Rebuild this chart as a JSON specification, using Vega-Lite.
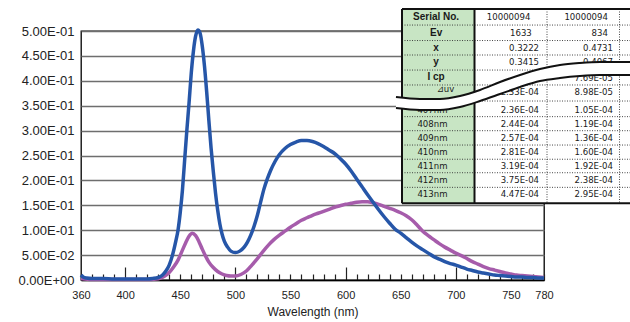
{
  "$schema": "https://vega.github.io/schema/vega-lite/v6.json",
  "width": 463,
  "height": 249,
  "autosize": {"type": "none"},
  "padding": {"left": 81, "top": 31, "right": 86, "bottom": 42},
  "background": "white",
  "config": {"view": {"stroke": "black", "strokeWidth": 1.3}, "font": "Liberation Sans"},
  "datasets": {
    "spectra": [
      {"s":"b","nm":360,"v":0.010},{"s":"b","nm":362,"v":0.006},{"s":"b","nm":365,"v":0.004},{"s":"b","nm":370,"v":0.003},{"s":"b","nm":380,"v":0.003},{"s":"b","nm":390,"v":0.002},{"s":"b","nm":400,"v":0.002},{"s":"b","nm":410,"v":0.002},{"s":"b","nm":420,"v":0.002},{"s":"b","nm":425,"v":0.003},{"s":"b","nm":430,"v":0.005},{"s":"b","nm":434,"v":0.010},{"s":"b","nm":437,"v":0.018},{"s":"b","nm":440,"v":0.030},{"s":"b","nm":443,"v":0.050},{"s":"b","nm":446,"v":0.078},{"s":"b","nm":448,"v":0.100},{"s":"b","nm":450,"v":0.135},{"s":"b","nm":452,"v":0.180},{"s":"b","nm":454,"v":0.240},{"s":"b","nm":456,"v":0.300},{"s":"b","nm":458,"v":0.355},{"s":"b","nm":460,"v":0.415},{"s":"b","nm":462,"v":0.460},{"s":"b","nm":464,"v":0.490},{"s":"b","nm":466,"v":0.502},{"s":"b","nm":468,"v":0.496},{"s":"b","nm":470,"v":0.470},{"s":"b","nm":472,"v":0.430},{"s":"b","nm":474,"v":0.378},{"s":"b","nm":476,"v":0.320},{"s":"b","nm":478,"v":0.265},{"s":"b","nm":480,"v":0.218},{"s":"b","nm":482,"v":0.175},{"s":"b","nm":484,"v":0.140},{"s":"b","nm":486,"v":0.112},{"s":"b","nm":488,"v":0.092},{"s":"b","nm":490,"v":0.078},{"s":"b","nm":493,"v":0.066},{"s":"b","nm":496,"v":0.058},{"s":"b","nm":500,"v":0.055},{"s":"b","nm":504,"v":0.058},{"s":"b","nm":508,"v":0.066},{"s":"b","nm":511,"v":0.076},{"s":"b","nm":514,"v":0.090},{"s":"b","nm":517,"v":0.108},{"s":"b","nm":520,"v":0.130},{"s":"b","nm":523,"v":0.157},{"s":"b","nm":526,"v":0.183},{"s":"b","nm":529,"v":0.203},{"s":"b","nm":532,"v":0.220},{"s":"b","nm":536,"v":0.238},{"s":"b","nm":540,"v":0.252},{"s":"b","nm":545,"v":0.264},{"s":"b","nm":550,"v":0.272},{"s":"b","nm":555,"v":0.277},{"s":"b","nm":560,"v":0.280},{"s":"b","nm":565,"v":0.280},{"s":"b","nm":570,"v":0.278},{"s":"b","nm":575,"v":0.274},{"s":"b","nm":580,"v":0.268},{"s":"b","nm":585,"v":0.261},{"s":"b","nm":590,"v":0.254},{"s":"b","nm":595,"v":0.244},{"s":"b","nm":600,"v":0.233},{"s":"b","nm":605,"v":0.219},{"s":"b","nm":610,"v":0.203},{"s":"b","nm":615,"v":0.187},{"s":"b","nm":620,"v":0.171},{"s":"b","nm":625,"v":0.156},{"s":"b","nm":630,"v":0.141},{"s":"b","nm":635,"v":0.127},{"s":"b","nm":640,"v":0.114},{"s":"b","nm":645,"v":0.102},{"s":"b","nm":650,"v":0.094},{"s":"b","nm":655,"v":0.085},{"s":"b","nm":660,"v":0.076},{"s":"b","nm":665,"v":0.068},{"s":"b","nm":670,"v":0.061},{"s":"b","nm":675,"v":0.054},{"s":"b","nm":680,"v":0.047},{"s":"b","nm":685,"v":0.042},{"s":"b","nm":690,"v":0.037},{"s":"b","nm":695,"v":0.033},{"s":"b","nm":700,"v":0.030},{"s":"b","nm":705,"v":0.026},{"s":"b","nm":710,"v":0.022},{"s":"b","nm":715,"v":0.019},{"s":"b","nm":720,"v":0.016},{"s":"b","nm":725,"v":0.014},{"s":"b","nm":730,"v":0.012},{"s":"b","nm":735,"v":0.010},{"s":"b","nm":740,"v":0.009},{"s":"b","nm":745,"v":0.008},{"s":"b","nm":750,"v":0.007},{"s":"b","nm":755,"v":0.006},{"s":"b","nm":760,"v":0.006},{"s":"b","nm":765,"v":0.005},{"s":"b","nm":770,"v":0.005},{"s":"b","nm":775,"v":0.004},{"s":"b","nm":780,"v":0.004},
      {"s":"p","nm":360,"v":0.003},{"s":"p","nm":370,"v":0.001},{"s":"p","nm":380,"v":0.001},{"s":"p","nm":390,"v":0.001},{"s":"p","nm":400,"v":0.001},{"s":"p","nm":410,"v":0.001},{"s":"p","nm":420,"v":0.001},{"s":"p","nm":428,"v":0.002},{"s":"p","nm":432,"v":0.004},{"s":"p","nm":436,"v":0.008},{"s":"p","nm":440,"v":0.015},{"s":"p","nm":444,"v":0.026},{"s":"p","nm":448,"v":0.040},{"s":"p","nm":452,"v":0.060},{"s":"p","nm":455,"v":0.075},{"s":"p","nm":458,"v":0.088},{"s":"p","nm":461,"v":0.094},{"s":"p","nm":464,"v":0.089},{"s":"p","nm":467,"v":0.077},{"s":"p","nm":470,"v":0.062},{"s":"p","nm":473,"v":0.048},{"s":"p","nm":476,"v":0.036},{"s":"p","nm":480,"v":0.025},{"s":"p","nm":484,"v":0.017},{"s":"p","nm":488,"v":0.012},{"s":"p","nm":492,"v":0.009},{"s":"p","nm":496,"v":0.008},{"s":"p","nm":500,"v":0.008},{"s":"p","nm":505,"v":0.011},{"s":"p","nm":510,"v":0.018},{"s":"p","nm":515,"v":0.030},{"s":"p","nm":520,"v":0.043},{"s":"p","nm":525,"v":0.057},{"s":"p","nm":530,"v":0.070},{"s":"p","nm":535,"v":0.081},{"s":"p","nm":540,"v":0.090},{"s":"p","nm":545,"v":0.098},{"s":"p","nm":550,"v":0.106},{"s":"p","nm":555,"v":0.113},{"s":"p","nm":560,"v":0.120},{"s":"p","nm":565,"v":0.125},{"s":"p","nm":570,"v":0.130},{"s":"p","nm":575,"v":0.134},{"s":"p","nm":580,"v":0.138},{"s":"p","nm":585,"v":0.142},{"s":"p","nm":590,"v":0.146},{"s":"p","nm":595,"v":0.149},{"s":"p","nm":600,"v":0.152},{"s":"p","nm":605,"v":0.154},{"s":"p","nm":610,"v":0.156},{"s":"p","nm":615,"v":0.157},{"s":"p","nm":620,"v":0.157},{"s":"p","nm":625,"v":0.155},{"s":"p","nm":630,"v":0.152},{"s":"p","nm":635,"v":0.148},{"s":"p","nm":640,"v":0.144},{"s":"p","nm":645,"v":0.140},{"s":"p","nm":650,"v":0.135},{"s":"p","nm":655,"v":0.129},{"s":"p","nm":660,"v":0.121},{"s":"p","nm":665,"v":0.110},{"s":"p","nm":670,"v":0.098},{"s":"p","nm":675,"v":0.089},{"s":"p","nm":680,"v":0.081},{"s":"p","nm":685,"v":0.073},{"s":"p","nm":690,"v":0.066},{"s":"p","nm":695,"v":0.060},{"s":"p","nm":700,"v":0.054},{"s":"p","nm":705,"v":0.049},{"s":"p","nm":710,"v":0.043},{"s":"p","nm":715,"v":0.037},{"s":"p","nm":720,"v":0.032},{"s":"p","nm":725,"v":0.027},{"s":"p","nm":730,"v":0.023},{"s":"p","nm":735,"v":0.020},{"s":"p","nm":740,"v":0.017},{"s":"p","nm":745,"v":0.014},{"s":"p","nm":750,"v":0.012},{"s":"p","nm":755,"v":0.010},{"s":"p","nm":760,"v":0.009},{"s":"p","nm":765,"v":0.008},{"s":"p","nm":770,"v":0.007},{"s":"p","nm":775,"v":0.006},{"s":"p","nm":780,"v":0.005}
    ],
    "cells": [
      {"part":"label","x":0,"x2":1,"y":0,"y2":13.68},
      {"part":"value","x":1,"x2":3.145,"y":0,"y2":13.68}
    ],
    "dotted": [
      {"x":0,"x2":3.145,"y":1.13,"y2":1.13},{"x":0,"x2":3.145,"y":2.22,"y2":2.22},{"x":0,"x2":3.145,"y":3.24,"y2":3.24},{"x":0,"x2":3.145,"y":4.30,"y2":4.30},{"x":0,"x2":3.145,"y":5.35,"y2":5.35},{"x":0,"x2":3.145,"y":6.48,"y2":6.48},{"x":0,"x2":3.145,"y":7.58,"y2":7.58},{"x":0,"x2":3.145,"y":8.57,"y2":8.57},{"x":0,"x2":3.145,"y":9.58,"y2":9.58},{"x":0,"x2":3.145,"y":10.58,"y2":10.58},{"x":0,"x2":3.145,"y":11.53,"y2":11.53},{"x":0,"x2":3.145,"y":12.56,"y2":12.56},
      {"x":2,"x2":2,"y":0,"y2":13.68},{"x":3,"x2":3,"y":0,"y2":13.68}
    ],
    "solid": [
      {"x":0,"x2":3.145,"y":0,"y2":0},{"x":0,"x2":3.145,"y":13.68,"y2":13.68},
      {"x":0,"x2":0,"y":0,"y2":13.68},{"x":1,"x2":1,"y":0,"y2":13.68}
    ],
    "headBold": [
      {"x":0.47,"y":0.56,"t":"Serial No."},{"x":0.47,"y":1.69,"t":"Ev"},{"x":0.47,"y":2.75,"t":"x"},{"x":0.47,"y":3.73,"t":"y"},{"x":0.47,"y":4.80,"t":"I cp"}
    ],
    "headNormal": [
      {"x":0.6,"y":5.62,"t":"⊿uv"},{"x":0.42,"y":7.11,"t":"407nm"},{"x":0.42,"y":8.10,"t":"408nm"},{"x":0.42,"y":9.08,"t":"409nm"},{"x":0.42,"y":10.07,"t":"410nm"},{"x":0.42,"y":11.06,"t":"411nm"},{"x":0.42,"y":12.04,"t":"412nm"},{"x":0.42,"y":13.06,"t":"413nm"}
    ],
    "vals": [
      {"x":1.77,"y":0.56,"t":"10000094"},{"x":2.84,"y":0.56,"t":"10000094"},
      {"x":1.79,"y":1.69,"t":"1633"},{"x":2.84,"y":1.69,"t":"834"},
      {"x":1.89,"y":2.75,"t":"0.3222"},{"x":2.91,"y":2.75,"t":"0.4731"},
      {"x":1.89,"y":3.73,"t":"0.3415"},{"x":2.91,"y":3.73,"t":"0.4067"},
      {"x":2.91,"y":4.86,"t":"7.69E-05"},
      {"x":1.89,"y":5.85,"t":"2.33E-04"},{"x":2.91,"y":5.85,"t":"8.98E-05"},
      {"x":1.89,"y":7.11,"t":"2.36E-04"},{"x":2.91,"y":7.11,"t":"1.05E-04"},
      {"x":1.89,"y":8.10,"t":"2.44E-04"},{"x":2.91,"y":8.10,"t":"1.19E-04"},
      {"x":1.89,"y":9.08,"t":"2.57E-04"},{"x":2.91,"y":9.08,"t":"1.36E-04"},
      {"x":1.89,"y":10.07,"t":"2.81E-04"},{"x":2.91,"y":10.07,"t":"1.60E-04"},
      {"x":1.89,"y":11.06,"t":"3.19E-04"},{"x":2.91,"y":11.06,"t":"1.92E-04"},
      {"x":1.89,"y":12.04,"t":"3.75E-04"},{"x":2.91,"y":12.04,"t":"2.38E-04"},
      {"x":1.89,"y":13.06,"t":"4.47E-04"},{"x":2.91,"y":13.06,"t":"2.95E-04"}
    ],
    "wave": [
      {"x":-0.083,"y":6.20,"y2":6.97},{"x":0.248,"y":6.34,"y2":7.11},{"x":0.524,"y":6.34,"y2":7.11},{"x":0.800,"y":6.13,"y2":6.90},{"x":1.076,"y":5.70,"y2":6.48},{"x":1.352,"y":5.14,"y2":5.99},{"x":1.628,"y":4.65,"y2":5.49},{"x":1.903,"y":4.23,"y2":5.07},{"x":2.179,"y":3.94,"y2":4.86},{"x":2.455,"y":3.80,"y2":4.72},{"x":2.731,"y":3.73,"y2":4.65},{"x":3.145,"y":3.73,"y2":4.65}
    ]
  },
  "layer": [
    {
      "data": {"name": "spectra"},
      "encoding": {
        "y": {"field": "v", "type": "quantitative",
          "scale": {"domain": [0, 0.5], "nice": false, "zero": false},
          "axis": {"values": [0,0.05,0.1,0.15,0.2,0.25,0.3,0.35,0.4,0.45,0.5],
            "labelExpr": "datum.value == 0 ? '0.00E+00' : datum.value < 0.1 ? format(datum.value*100, '.2f') + 'E-02' : format(datum.value*10, '.2f') + 'E-01'",
            "grid": true, "gridColor": "#6e6e6e", "gridWidth": 1.3, "domain": false, "ticks": false,
            "labelPadding": 7, "labelFontSize": 13, "labelColor": "#222", "labelFlush": false, "labelFont": "Liberation Sans", "title": null}}
      },
      "layer": [
        {
          "transform": [{"filter": "datum.s == 'p'"}],
          "mark": {"type": "line", "color": "#a65cab", "strokeWidth": 3.5, "strokeJoin": "round", "interpolate": "monotone"},
          "encoding": {
            "x": {"field": "nm", "type": "quantitative", "scale": {"domain": [360, 780], "nice": false, "zero": false},
              "axis": {"orient": "bottom", "values": [360,370,380,390,400,410,420,430,440,450,460,470,480,490,500,510,520,530,540,550,560,570,580,590,600,610,620,630,640,650,660,670,680,690,700,710,720,730,740,750,760,770,780],
                "labels": false, "domain": false, "grid": false, "title": null,
                "tickSize": {"condition": {"test": "datum.value % 100 === 0", "value": -13}, "value": -6},
                "tickColor": "#222", "tickWidth": 1.2}}
          }
        },
        {
          "transform": [{"filter": "datum.s == 'b'"}],
          "mark": {"type": "line", "color": "#2656a8", "strokeWidth": 3.5, "strokeJoin": "round", "interpolate": "monotone"},
          "encoding": {
            "x": {"field": "nm", "type": "quantitative", "scale": {"domain": [360, 780], "nice": false, "zero": false},
              "axis": {"orient": "bottom", "values": [360,400,450,500,550,600,650,700,750,780],
                "ticks": false, "domain": true, "domainColor": "black", "domainWidth": 1.3, "grid": false,
                "labelFontSize": 11, "labelPadding": 9, "labelFlush": false, "labelOverlap": false, "labelColor": "#222", "labelFont": "Liberation Sans",
                "title": "Wavelength (nm)", "titleFontSize": 12, "titleFontWeight": "normal", "titleColor": "#222", "titleFont": "Liberation Sans", "titlePadding": 6}}
          }
        }
      ],
      "resolve": {"axis": {"x": "independent"}}
    },
    {
      "layer": [
        {
          "data": {"name": "cells"},
          "mark": {"type": "rect", "clip": false},
          "encoding": {
            "x": {"field": "x", "type": "quantitative", "scale": {"domain": [-4.4276, 1.9586], "nice": false, "zero": false}, "axis": null},
            "x2": {"field": "x2"},
            "y": {"field": "y", "type": "quantitative", "scale": {"domain": [1.549, 19.085], "reverse": true, "nice": false, "zero": false}, "axis": null},
            "y2": {"field": "y2"},
            "color": {"field": "part", "type": "nominal", "scale": {"domain": ["label", "value"], "range": ["#c8e5c4", "#ffffff"]}, "legend": null}
          }
        },
        {
          "data": {"name": "dotted"},
          "mark": {"type": "rule", "color": "#333", "strokeWidth": 0.9, "strokeDash": [1, 1.5]},
          "encoding": {
            "x": {"field": "x", "type": "quantitative", "scale": {"domain": [-4.4276, 1.9586], "nice": false, "zero": false}, "axis": null},
            "x2": {"field": "x2"},
            "y": {"field": "y", "type": "quantitative", "scale": {"domain": [1.549, 19.085], "reverse": true, "nice": false, "zero": false}, "axis": null},
            "y2": {"field": "y2"}
          }
        },
        {
          "data": {"name": "solid"},
          "mark": {"type": "rule", "color": "#111", "strokeWidth": 2},
          "encoding": {
            "x": {"field": "x", "type": "quantitative", "scale": {"domain": [-4.4276, 1.9586], "nice": false, "zero": false}, "axis": null},
            "x2": {"field": "x2"},
            "y": {"field": "y", "type": "quantitative", "scale": {"domain": [1.549, 19.085], "reverse": true, "nice": false, "zero": false}, "axis": null},
            "y2": {"field": "y2"}
          }
        },
        {
          "data": {"name": "headBold"},
          "mark": {"type": "text", "font": "Liberation Sans", "fontSize": 10, "fontWeight": "bold", "align": "center", "baseline": "middle", "color": "#1a1a1a"},
          "encoding": {
            "x": {"field": "x", "type": "quantitative", "scale": {"domain": [-4.4276, 1.9586], "nice": false, "zero": false}, "axis": null},
            "y": {"field": "y", "type": "quantitative", "scale": {"domain": [1.549, 19.085], "reverse": true, "nice": false, "zero": false}, "axis": null},
            "text": {"field": "t"}
          }
        },
        {
          "data": {"name": "headNormal"},
          "mark": {"type": "text", "font": "Liberation Sans Narrow, DejaVu Sans Condensed, Liberation Sans", "fontSize": 9.5, "align": "center", "baseline": "middle", "color": "#1a1a1a"},
          "encoding": {
            "x": {"field": "x", "type": "quantitative", "scale": {"domain": [-4.4276, 1.9586], "nice": false, "zero": false}, "axis": null},
            "y": {"field": "y", "type": "quantitative", "scale": {"domain": [1.549, 19.085], "reverse": true, "nice": false, "zero": false}, "axis": null},
            "text": {"field": "t"}
          }
        },
        {
          "data": {"name": "vals"},
          "mark": {"type": "text", "font": "Liberation Sans Narrow, DejaVu Sans Condensed, Liberation Sans", "fontSize": 9.5, "align": "right", "baseline": "middle", "color": "#1a1a1a"},
          "encoding": {
            "x": {"field": "x", "type": "quantitative", "scale": {"domain": [-4.4276, 1.9586], "nice": false, "zero": false}, "axis": null},
            "y": {"field": "y", "type": "quantitative", "scale": {"domain": [1.549, 19.085], "reverse": true, "nice": false, "zero": false}, "axis": null},
            "text": {"field": "t"}
          }
        },
        {
          "data": {"name": "wave"},
          "mark": {"type": "area", "color": "white", "opacity": 1, "interpolate": "monotone"},
          "encoding": {
            "x": {"field": "x", "type": "quantitative", "scale": {"domain": [-4.4276, 1.9586], "nice": false, "zero": false}, "axis": null},
            "y": {"field": "y", "type": "quantitative", "scale": {"domain": [1.549, 19.085], "reverse": true, "nice": false, "zero": false}, "axis": null},
            "y2": {"field": "y2"}
          }
        },
        {
          "data": {"name": "wave"},
          "mark": {"type": "line", "color": "#111", "strokeWidth": 2, "interpolate": "monotone"},
          "encoding": {
            "x": {"field": "x", "type": "quantitative", "scale": {"domain": [-4.4276, 1.9586], "nice": false, "zero": false}, "axis": null},
            "y": {"field": "y", "type": "quantitative", "scale": {"domain": [1.549, 19.085], "reverse": true, "nice": false, "zero": false}, "axis": null}
          }
        },
        {
          "data": {"name": "wave"},
          "mark": {"type": "line", "color": "#111", "strokeWidth": 2, "interpolate": "monotone"},
          "encoding": {
            "x": {"field": "x", "type": "quantitative", "scale": {"domain": [-4.4276, 1.9586], "nice": false, "zero": false}, "axis": null},
            "y": {"field": "y2", "type": "quantitative", "scale": {"domain": [1.549, 19.085], "reverse": true, "nice": false, "zero": false}, "axis": null}
          }
        }
      ]
    }
  ],
  "resolve": {"scale": {"x": "independent", "y": "independent", "color": "independent"}}
}
